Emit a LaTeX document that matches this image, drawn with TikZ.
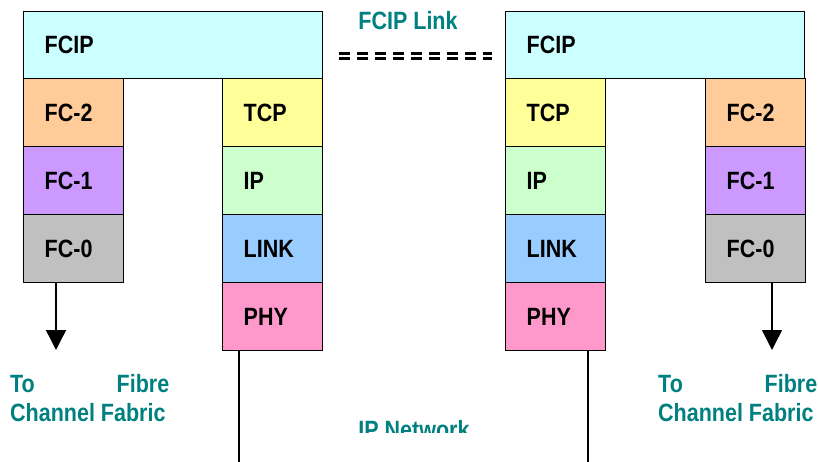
\documentclass[tikz,border=0pt]{standalone}
\usepackage{fontspec}
\setmainfont{Liberation Sans}[FakeStretch=0.86]
\usetikzlibrary{arrows.meta}
\definecolor{cfcip}{HTML}{CCFFFF}
\definecolor{cfctwo}{HTML}{FFCC99}
\definecolor{cfcone}{HTML}{CC99FF}
\definecolor{cfczero}{HTML}{C0C0C0}
\definecolor{ctcp}{HTML}{FFFF99}
\definecolor{cip}{HTML}{CCFFCC}
\definecolor{clink}{HTML}{99CCFF}
\definecolor{cphy}{HTML}{FF99CC}
\definecolor{tealtext}{HTML}{008080}
\tikzset{
  layer/.style={draw=black, line width=1.4pt, anchor=north west,
    minimum height=68pt, minimum width=100pt, text width=58pt,
    inner xsep=21pt, inner ysep=0pt, align=left,
    font=\fontsize{25pt}{28pt}\selectfont\bfseries},
  wide/.style={layer, minimum width=299pt, minimum height=67pt, text width=257pt},
  tlabel/.style={text=tealtext, font=\fontsize{25pt}{29pt}\selectfont\bfseries, inner sep=0pt},
  downarrow/.style={line width=1.4pt, -{Triangle[width=20pt,length=20pt]}},
  wire/.style={line width=1.4pt}
}
\begin{document}
\begin{tikzpicture}[x=1pt,y=-1pt]
\useasboundingbox (0,0) rectangle (818,462);
% left stack
\node[wide, fill=cfcip] (lfcip) at (23,11) {FCIP};
\node[layer, fill=cfctwo] (lfc2) at (23,78) {FC-2};
\node[layer, fill=cfcone] (lfc1) at (23,146) {FC-1};
\node[layer, fill=cfczero] (lfc0) at (23,214) {FC-0};
\node[layer, fill=ctcp] (ltcp) at (222,78) {TCP};
\node[layer, fill=cip] (lip) at (222,146) {IP};
\node[layer, fill=clink] (llink) at (222,214) {LINK};
\node[layer, fill=cphy] (lphy) at (222,282) {PHY};
% right stack
\node[wide, fill=cfcip] (rfcip) at (505,11) {FCIP};
\node[layer, fill=ctcp] (rtcp) at (505,78) {TCP};
\node[layer, fill=cip] (rip) at (505,146) {IP};
\node[layer, fill=clink] (rlink) at (505,214) {LINK};
\node[layer, fill=cphy] (rphy) at (505,282) {PHY};
\node[layer, fill=cfctwo] (rfc2) at (705,78) {FC-2};
\node[layer, fill=cfcone] (rfc1) at (705,146) {FC-1};
\node[layer, fill=cfczero] (rfc0) at (705,214) {FC-0};
% arrows to fabric
\coordinate (larr) at (56,350);
\coordinate (rarr) at (772,350);
\draw[downarrow] (lfc0.south -| larr) -- (larr);
\draw[downarrow] (rfc0.south -| rarr) -- (rarr);
% IP network wires
\coordinate (lwire) at (239,462);
\coordinate (rwire) at (588,462);
\draw[wire] (lphy.south -| lwire) -- (lwire);
\draw[wire] (rphy.south -| rwire) -- (rwire);
% FCIP link
\node[tlabel, anchor=base] (linklabel) at (408,30) {FCIP Link};
\coordinate (da) at (339,53.5);
\coordinate (db) at (492,53.5);
\coordinate (dc) at (339,58.5);
\coordinate (dd) at (492,58.5);
\draw[line width=2.6pt, dash pattern=on 11pt off 7pt] (da) -- (db);
\draw[line width=2.6pt, dash pattern=on 11pt off 7pt] (dc) -- (dd);
% fabric labels
\node[tlabel, anchor=north west, text width=159pt, align=justify] (lfab) at (10,374)
  {To\hfill Fibre\\Channel Fabric};
\node[tlabel, anchor=north west, text width=159pt, align=justify] (rfab) at (658,374)
  {To\hfill Fibre\\Channel Fabric};
% IP network (clipped)
\begin{scope}
\clip (300,400) rectangle (520,432);
\node[tlabel, anchor=base] (ipnet) at (414,438) {IP Network};
\end{scope}
\end{tikzpicture}
\end{document}
